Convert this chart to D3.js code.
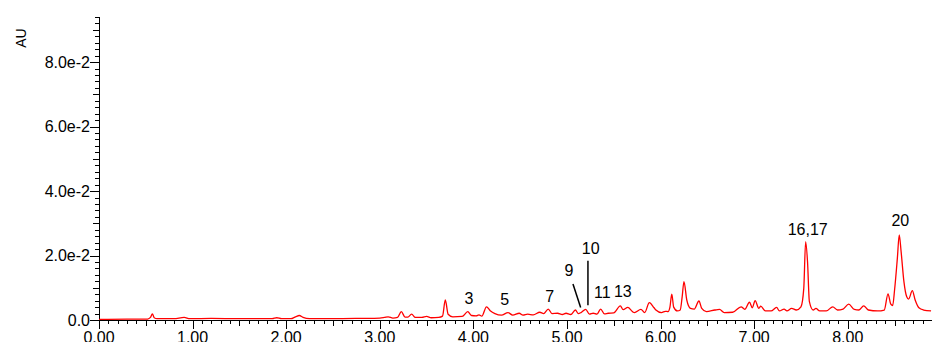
<!DOCTYPE html>
<html>
<head>
<meta charset="utf-8">
<script src="https://cdn.jsdelivr.net/npm/d3@7"></script>
<style>
  body { margin: 0; background: white; }
  svg { display: block; font-family: "Liberation Sans", Arial, sans-serif; }
  .peak-label { font-family: "Liberation Sans Narrow", "Arial Narrow", "Liberation Sans", sans-serif; font-size: 16px; }
</style>
</head>
<body>
<div id="chart-container"></div>
<script>

// retention time (min) / absorbance (AU)
var times = [0.00, 0.30, 0.52, 0.55, 0.57, 0.59, 0.62, 0.80, 0.91, 0.97, 1.20, 1.50, 1.85, 1.90, 1.95, 2.05, 2.10, 2.14, 2.18, 2.25,
  2.50, 2.80, 3.00, 3.05, 3.09, 3.14, 3.19, 3.23, 3.27, 3.30, 3.34, 3.38, 3.45, 3.50, 3.55, 3.63, 3.67, 3.70, 3.73, 3.78,
  3.88, 3.94, 3.98, 4.03, 4.06, 4.09, 4.14, 4.18, 4.23, 4.30, 4.37, 4.42, 4.49, 4.53, 4.58, 4.64, 4.71, 4.75, 4.80, 4.84,
  4.90, 4.95, 4.99, 5.04, 5.09, 5.12, 5.15, 5.20, 5.24, 5.28, 5.32, 5.36, 5.40, 5.44, 5.50, 5.57, 5.60, 5.65, 5.70, 5.72,
  5.79, 5.83, 5.88, 5.93, 5.95, 6.01, 6.05, 6.08, 6.10, 6.12, 6.14, 6.18, 6.21, 6.23, 6.25, 6.28, 6.32, 6.36, 6.41, 6.44,
  6.49, 6.58, 6.63, 6.68, 6.77, 6.86, 6.90, 6.95, 6.98, 7.01, 7.05, 7.07, 7.12, 7.18, 7.24, 7.27, 7.32, 7.35, 7.40, 7.45,
  7.50, 7.53, 7.55, 7.57, 7.59, 7.63, 7.66, 7.70, 7.77, 7.84, 7.89, 7.95, 8.01, 8.07, 8.12, 8.17, 8.22, 8.32, 8.39, 8.43,
  8.46, 8.48, 8.50, 8.53, 8.55, 8.57, 8.60, 8.63, 8.65, 8.69, 8.72, 8.76, 8.81, 8.89]

var absorbance = [0.0002, 0.0003, 0.0003, 0.0008, 0.0019, 0.0007, 0.0004, 0.0004, 0.0008, 0.0004, 0.0005, 0.0004, 0.0004, 0.0007, 0.0004, 0.0004, 0.0010, 0.0014, 0.0008, 0.0004,
  0.0004, 0.0005, 0.0006, 0.0008, 0.0010, 0.0006, 0.0008, 0.0026, 0.0009, 0.0009, 0.0018, 0.0008, 0.0008, 0.0011, 0.0007, 0.0008, 0.0012, 0.0062, 0.0018, 0.0010,
  0.0011, 0.0026, 0.0014, 0.0013, 0.0016, 0.0012, 0.0041, 0.0029, 0.0020, 0.0015, 0.0023, 0.0015, 0.0021, 0.0015, 0.0018, 0.0016, 0.0024, 0.0020, 0.0034, 0.0020,
  0.0021, 0.0017, 0.0021, 0.0017, 0.0031, 0.0020, 0.0023, 0.0033, 0.0018, 0.0021, 0.0018, 0.0034, 0.0019, 0.0021, 0.0022, 0.0044, 0.0032, 0.0039, 0.0026, 0.0023,
  0.0033, 0.0023, 0.0054, 0.0038, 0.0031, 0.0023, 0.0027, 0.0026, 0.0040, 0.0080, 0.0040, 0.0028, 0.0031, 0.0070, 0.0119, 0.0062, 0.0036, 0.0034, 0.0059, 0.0036,
  0.0026, 0.0031, 0.0033, 0.0023, 0.0024, 0.0041, 0.0033, 0.0055, 0.0038, 0.0060, 0.0036, 0.0043, 0.0028, 0.0028, 0.0039, 0.0028, 0.0034, 0.0028, 0.0036, 0.0031,
  0.0041, 0.0098, 0.0243, 0.0181, 0.0057, 0.0031, 0.0036, 0.0028, 0.0028, 0.0041, 0.0031, 0.0034, 0.0049, 0.0033, 0.0031, 0.0044, 0.0031, 0.0028, 0.0031, 0.0081,
  0.0049, 0.0045, 0.0093, 0.0192, 0.0264, 0.0212, 0.0119, 0.0072, 0.0065, 0.0091, 0.0062, 0.0038, 0.0031, 0.0028]

var yTickValues = [0, 0.02, 0.04, 0.06, 0.08]
var yTickLabels = ['0.0', '2.0e-2', '4.0e-2', '6.0e-2', '8.0e-2']
var xTickValues = [0, 1, 2, 3, 4, 5, 6, 7, 8]
var xTickLabels = ['0.00', '1.00', '2.00', '3.00', '4.00', '5.00', '6.00', '7.00', '8.00']

// peak annotations: label, label centre (time, AU)
var peakNames = ['3', '5', '7', '9', '10', '11', '13', '16,17', '20']
var peakLabelTimes = [3.953, 4.334, 4.815, 5.021, 5.253, 5.377, 5.597, 7.572, 8.562]
var peakLabelValues = [0.0067, 0.0064, 0.0074, 0.0155, 0.0222, 0.0085, 0.0090, 0.0281, 0.0310]

// leader lines for 9 and 10: [t1, v1, t2, v2]
var leaderLines = [[5.064, 0.0112, 5.146, 0.0039], [5.224, 0.0184, 5.224, 0.0046]]

var width = 932, height = 342
var margin = {left: 99, top: 17, bottom: 22, right: 0}

var svg = d3.select('#chart-container')
  .append('svg')
  .attr('width', width)
  .attr('height', height)

var x = d3.scaleLinear().domain([0, 8.9]).range([margin.left, width - margin.right])
var y = d3.scaleLinear().domain([0, 0.094]).range([height - margin.bottom, margin.top])

var yMinor = d3.range(0, 0.0941, 0.002)
var xMinor = d3.range(0, 8.9, 0.1)

var axes = svg.append('g').attr('class', 'axes')

// y axis ticks
axes.selectAll('.y-tick')
  .data(yMinor)
  .enter().append('line')
    .attr('class', 'y-tick')
    .attr('x1', function(d) {
      var k = Math.round(d * 1000)
      if (k % 20 === 0) return margin.left - 9
      if (k % 10 === 0) return margin.left - 6
      return margin.left - 4
    })
    .attr('x2', margin.left)
    .attr('y1', function(d) { return Math.round(y(d)) + 0.5 })
    .attr('y2', function(d) { return Math.round(y(d)) + 0.5 })
    .style('stroke', 'black')
    .style('stroke-width', '1px')

axes.append('line')
  .attr('x1', margin.left + 0.5).attr('x2', margin.left + 0.5)
  .attr('y1', margin.top).attr('y2', y(0) + 1)
  .style('stroke', 'black')

axes.selectAll('.y-label')
  .data(yTickValues)
  .enter().append('text')
    .attr('class', 'y-label')
    .attr('x', margin.left - 9)
    .attr('y', function(d) { return y(d) })
    .attr('dy', '0.35em')
    .attr('text-anchor', 'end')
    .style('font-size', '16px')
    .text(function(d, i) { return yTickLabels[i] })

// x axis ticks
axes.selectAll('.x-tick')
  .data(xMinor)
  .enter().append('line')
    .attr('class', 'x-tick')
    .attr('x1', function(d) { return Math.round(x(d)) + 0.5 })
    .attr('x2', function(d) { return Math.round(x(d)) + 0.5 })
    .attr('y1', y(0))
    .attr('y2', function(d) {
      var k = Math.round(d * 10)
      if (k % 10 === 0) return y(0) + 9
      if (k % 5 === 0) return y(0) + 6
      return y(0) + 4
    })
    .style('stroke', 'black')
    .style('stroke-width', '1px')

axes.append('line')
  .attr('x1', margin.left).attr('x2', width)
  .attr('y1', y(0) + 0.5).attr('y2', y(0) + 0.5)
  .style('stroke', 'black')

axes.selectAll('.x-label')
  .data(xTickValues)
  .enter().append('text')
    .attr('class', 'x-label')
    .attr('x', function(d) { return x(d) })
    .attr('y', y(0) + 23)
    .attr('text-anchor', 'middle')
    .style('font-size', '16px')
    .text(function(d, i) { return xTickLabels[i] })

svg.append('text')
  .attr('transform', 'translate(26,' + 38 + ') rotate(-90)')
  .attr('text-anchor', 'middle')
  .style('font-size', '14px')
  .text('AU')

// chromatogram
var trace = times.map(function(t, i) { return [t, absorbance[i]] })

var line = d3.line()
  .x(function(d) { return x(d[0]) })
  .y(function(d) { return y(d[1]) })
  .curve(d3.curveMonotoneX)

svg.append('path')
  .datum(trace)
  .attr('d', line)
  .style('fill', 'none')
  .style('stroke', '#ff0000')
  .style('stroke-width', '1.3px')

// peak labels
svg.selectAll('.peak-label')
  .data(peakNames)
  .enter().append('text')
    .attr('class', 'peak-label')
    .attr('x', function(d, i) { return x(peakLabelTimes[i]) })
    .attr('y', function(d, i) { return y(peakLabelValues[i]) })
    .attr('dy', '0.36em')
    .attr('text-anchor', 'middle')
    .text(function(d) { return d })

svg.selectAll('.leader')
  .data(leaderLines)
  .enter().append('line')
    .attr('class', 'leader')
    .attr('x1', function(d) { return x(d[0]) })
    .attr('y1', function(d) { return y(d[1]) })
    .attr('x2', function(d) { return x(d[2]) })
    .attr('y2', function(d) { return y(d[3]) })
    .style('stroke', 'black')
    .style('stroke-width', '1.5px')

</script>
</body>
</html>
